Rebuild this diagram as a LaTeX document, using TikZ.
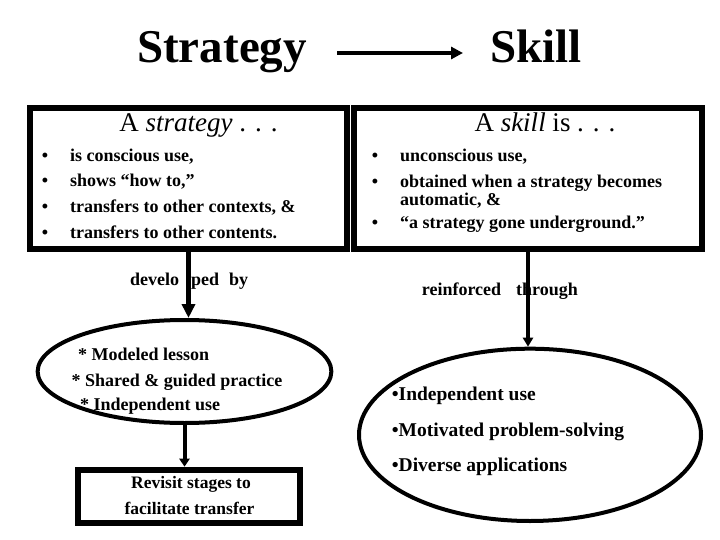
\documentclass[tikz,border=0pt]{standalone}
\usepackage{fontspec}
\setmainfont{Liberation Serif}
\usetikzlibrary{arrows.meta,shapes.geometric}
\newcommand\mytitlefont{\bfseries\fontsize{47}{50}\selectfont}
\newcommand\myheadfont{\fontsize{27}{30}\selectfont}
\newcommand\mybodyfont{\bfseries\fontsize{18}{22}\selectfont}
\newcommand\myellfont{\bfseries\fontsize{19.5}{23}\selectfont}
\newcommand\myrevfont{\bfseries\fontsize{17.5}{21}\selectfont}
\begin{document}
\begin{tikzpicture}[x=1pt,y=-1pt,
  txt/.style={inner sep=0pt, anchor=base west, font=\mybodyfont},
  ctxt/.style={inner sep=0pt, anchor=base},
  bul/.style={inner sep=0pt, anchor=base, font=\mybodyfont},
  frame/.style={draw=black, line width=6pt, inner sep=0pt, rectangle},
  oval/.style={draw=black, ellipse, line width=4pt, inner sep=0pt},
  conn/.style={draw=black, line width=4pt},
]
\useasboundingbox (0,0) rectangle (720,540);
\fill[white] (0,0) rectangle (720,540);

% title
\node[inner sep=0pt, anchor=base west, font=\mytitlefont] (tstrat) at (137,63) {Strategy};
\node[inner sep=0pt, anchor=base west, font=\mytitlefont] (tskill) at (490,63) {Skill};
\draw[conn, -{Triangle[length=12pt,width=12pt]}, shorten <=30pt, shorten >=27pt]
  ([yshift=10pt]tstrat.base east) -- ([yshift=10pt]tskill.base west);

% boxes
\node[frame, minimum width=317pt, minimum height=141pt] (lbox) at (188.5,178.5) {};
\node[frame, minimum width=348pt, minimum height=141pt] (rbox) at (528,178.5) {};

\node[ctxt, font=\myheadfont] (lhead) at (198.5,132) {A \textit{strategy} . . .};
\node[ctxt, font=\myheadfont] (rhead) at (545,132) {A \textit{skill} is . . .};

\node[bul] (lb1) at (45,162) {\textbullet};
\node[bul] (lb2) at (45,187) {\textbullet};
\node[bul] (lb3) at (45,213) {\textbullet};
\node[bul] (lb4) at (45,238) {\textbullet};
\node[txt] (lt1) at (70,162) {is conscious use,};
\node[txt] (lt2) at (70,187) {shows “how to,”};
\node[txt] (lt3) at (70,213) {transfers to other contexts, \&};
\node[txt] (lt4) at (70,238) {transfers to other contents.};

\node[bul] (rb1) at (375,162) {\textbullet};
\node[bul] (rb2) at (375,187.5) {\textbullet};
\node[bul] (rb3) at (375,229) {\textbullet};
\node[txt] (rt1) at (400,162) {unconscious use,};
\node[txt] (rt2) at (400,187.5) {obtained when a strategy becomes};
\node[txt] (rt2b) at (400,206) {automatic, \&};
\node[txt] (rt3) at (400,229) {“a strategy gone underground.”};

% ellipses
\node[oval, minimum width=293.7pt, minimum height=103pt] (lell) at (184.5,371.5) {};
\node[oval, minimum width=342pt, minimum height=172.3pt] (rell) at (530,434.85) {};

\node[txt] (le1) at (78,360.5) {* Modeled lesson};
\node[txt] (le2) at (71.5,386.5) {* Shared \& guided practice};
\node[txt] (le3) at (80,410.5) {* Independent use};

\node[txt, font=\myellfont] (re1) at (391.7,400.7) {•Independent use};
\node[txt, font=\myellfont] (re2) at (391.7,436.7) {•Motivated problem-solving};
\node[txt, font=\myellfont] (re3) at (391.7,471.7) {•Diverse applications};

% revisit box
\node[frame, minimum width=221.7pt, minimum height=53.3pt] (rev) at (188.85,496.35) {};
\node[ctxt, font=\myrevfont] (rev1) at (191,488.5) {Revisit stages to};
\node[ctxt, font=\myrevfont] (rev2) at (189.5,514.5) {facilitate transfer};

% connector labels
\node[txt] (dev) at (130,285) {develo\hspace{12pt}ped\hspace{10pt}by};
\node[txt] (rein) at (421.7,295) {reinforced\hspace{15pt}through};

% connectors
\draw[conn, line width=5pt, -{Triangle[length=14pt,width=13pt]}] (lbox.south) -- (lbox.south |- lell.north);
\draw[conn, -{Triangle[length=8pt,width=10pt]}] (lell.south) -- (lell.south |- rev.north);
\draw[conn, -{Triangle[length=9pt,width=10pt]}] (rbox.south) -- (rbox.south |- rell.north);
\end{tikzpicture}
\end{document}
